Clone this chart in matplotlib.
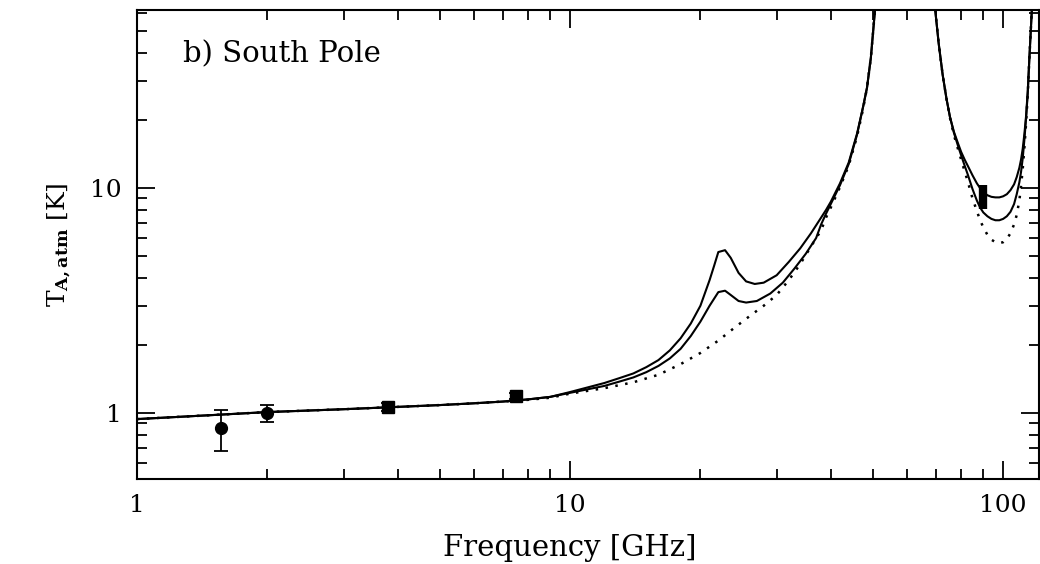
import numpy as np
import matplotlib
matplotlib.use("Agg")
import matplotlib.pyplot as plt
from matplotlib.ticker import LogLocator, NullFormatter, FormatStrFormatter

plt.rcParams['font.family'] = 'DejaVu Serif'
plt.rcParams['mathtext.fontset'] = 'dejavuserif'

# model curves (GHz, K)
f_upper = [1, 1.5, 2, 3, 4, 5, 6, 7, 8, 9, 10, 12, 13, 14, 15, 16, 17, 18, 19, 20,
           21, 21.5, 22, 22.8, 23.5, 24.5, 25.5, 26.7, 28, 30, 32, 34, 36, 38, 39, 40,
           42, 44, 46, 47.5, 48.5, 49.5, 50.6, 52,
           68, 69.7, 71, 72.5, 74, 75.4, 77, 78.7, 80, 81.5, 83, 85, 87, 88.5, 90, 92, 94,
           96, 98, 100, 102, 104, 106, 107.5, 109, 110, 111, 112, 113, 114, 115, 116.5, 118]
t_upper = [0.94, 0.98, 1.01, 1.04, 1.065, 1.085, 1.105, 1.125, 1.15, 1.18, 1.24, 1.36, 1.43,
           1.5, 1.6, 1.72, 1.9, 2.15, 2.5, 3.0,
           3.9, 4.5, 5.2, 5.3, 4.9, 4.2, 3.85, 3.75, 3.8, 4.1, 4.7, 5.4, 6.3, 7.4, 8.0, 8.7,
           10.5, 13, 17.5, 23, 28, 38, 62, 100,
           100, 62, 44, 32, 25, 20.7, 17.8, 15.8, 14.5, 13.4, 12.5, 11.4, 10.5, 10.0, 9.6, 9.3, 9.15,
           9.1, 9.1, 9.2, 9.4, 9.8, 10.4, 11.2, 12.3, 13.4, 15, 17.5, 21, 27, 38, 62, 100]

f_lower = [1, 1.5, 2, 3, 4, 5, 6, 7, 8, 9, 10, 12, 13, 14, 15, 16, 17, 18, 19, 20,
           21, 22, 22.8, 23.5, 24.5, 25.5, 27, 29, 31, 33, 35, 37, 38, 39, 40,
           42, 44, 46, 47.5, 48.5, 49.5, 50.6, 52,
           68, 69.7, 71, 72.5, 74, 75.4, 77, 78.7, 80, 81.5, 83, 85, 87, 88.5, 90, 92, 94,
           96, 98, 100, 102, 104, 106, 107.5, 109, 110, 111, 112, 113, 114, 115, 116.5, 118]
t_lower = [0.94, 0.98, 1.01, 1.04, 1.065, 1.085, 1.105, 1.125, 1.15, 1.18, 1.23, 1.32, 1.38,
           1.44, 1.52, 1.62, 1.75, 1.93, 2.2, 2.55,
           3.0, 3.45, 3.5, 3.35, 3.15, 3.1, 3.15, 3.4, 3.8, 4.4, 5.1, 6.0, 6.9, 7.7, 8.5,
           10.3, 12.8, 17.3, 23, 28, 38, 62, 100,
           100, 62, 44, 32, 25, 20.7, 17.6, 15.4, 14, 12.6, 11.4, 9.9, 8.8, 8.2, 7.8, 7.5, 7.3,
           7.2, 7.2, 7.3, 7.5, 7.85, 8.5, 9.4, 10.6, 11.8, 13.6, 16.5, 20.5, 26.5, 38, 62, 100]

f_dry = [1, 1.5, 2, 3, 4, 5, 6, 7, 8, 9, 10, 12, 14, 16, 18, 20, 22, 24, 26, 28, 30,
         32, 34, 36, 38, 39, 40, 42, 44, 46, 47.5, 48.5, 49.5, 50.6, 52,
         68, 69.7, 71, 72.5, 74, 75.4, 77, 78.7, 80, 81.5, 83, 85, 87, 88.5, 90, 92, 94,
         96, 98, 100, 102, 104, 106, 107.5, 109, 110, 111, 112, 113, 114, 115, 116.5, 118]
t_dry = [0.94, 0.98, 1.01, 1.04, 1.065, 1.085, 1.105, 1.125, 1.145, 1.17, 1.22, 1.29, 1.37,
         1.48, 1.65, 1.85, 2.1, 2.4, 2.7, 3.0, 3.35,
         3.9, 4.6, 5.5, 6.5, 7.4, 8.2, 10.1, 12.6, 17, 22.5, 28, 38, 62, 100,
         100, 62, 44, 32, 25, 20.5, 17.2, 14.9, 13.4, 11.9, 10.6, 9.0, 7.9, 7.2, 6.7, 6.2, 5.9,
         5.75, 5.7, 5.75, 5.95, 6.3, 6.9, 7.6, 8.8, 10.2, 12.2, 15.2, 19.5, 26, 38, 62, 100]

# measurements
f_meas = [1.56, 2.0, 3.8, 7.5]
t_meas = [0.857, 1.0, 1.065, 1.19]
t_err = [0.18, 0.09, 0.04, 0.04]
marks = ['o', 'o', 's', 's']
f_wmap = [90]
t_wmap = [9.2]
e_wmap = [1.1]

fig = plt.figure(figsize=(10.4, 5.64), dpi=100)
ax = fig.add_axes([0.1317, 0.1507, 0.8673, 0.8316])

ax.plot(f_upper, t_upper, color='black', lw=1.5)
ax.plot(f_lower, t_lower, color='black', lw=1.5)
ax.plot(f_dry, t_dry, color='black', lw=1.8, linestyle=(0, (1, 3)))

for f, t, e, m in zip(f_meas, t_meas, t_err, marks):
    ax.errorbar(f, t, yerr=e, fmt=m, color='black', ms=8.5,
                capsize=5, elinewidth=1.3, capthick=1.3)
ax.errorbar(f_wmap, t_wmap, yerr=e_wmap, fmt='none', ecolor='black', elinewidth=6, capsize=0)

ax.set_xscale('log')
ax.set_yscale('log')
ax.set_xlim(1, 121)
ax.set_ylim(0.509, 62)

for axis in (ax.xaxis, ax.yaxis):
    axis.set_major_locator(LogLocator(base=10))
    axis.set_minor_locator(LogLocator(base=10, subs=np.arange(2, 10)))
    axis.set_major_formatter(FormatStrFormatter('%g'))
    axis.set_minor_formatter(NullFormatter())

ax.tick_params(which='both', direction='in', top=True, right=True, width=1.3, labelsize=18)
ax.tick_params(which='major', length=13, pad=11)
ax.tick_params(which='minor', length=7)
for s in ax.spines.values():
    s.set_linewidth(1.5)

ax.set_xlabel('Frequency [GHz]', fontsize=21, labelpad=12)
ax.xaxis.label.set_x(0.48)
ax.set_ylabel(r'T$_{\mathbf{A,atm}}$ [K]', fontsize=18, labelpad=12)
ax.text(0.051, 0.906, 'b) South Pole', transform=ax.transAxes, fontsize=21,
        ha='left', va='center')

fig.savefig('out.png', dpi=100)
